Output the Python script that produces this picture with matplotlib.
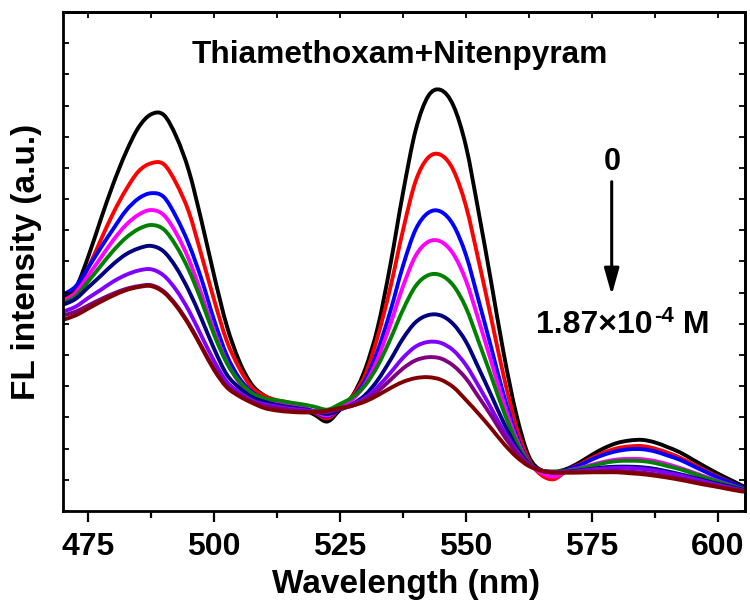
import matplotlib
matplotlib.use('Agg')
import matplotlib.pyplot as plt
from matplotlib.ticker import FixedLocator
from matplotlib.path import Path
from matplotlib.patches import PathPatch

plt.rcParams['font.family'] = ['Liberation Sans', 'DejaVu Sans']
plt.rcParams['font.weight'] = 'bold'

# ---------------- data ----------------
wavelength = [470, 472.5, 475, 477.5, 480, 482.5, 485, 487.5, 490, 492.5,
              495, 497.5, 500, 502.5, 505, 507.5, 510, 512.5, 515, 517.5,
              520, 522.5, 525, 527.5, 530, 532.5, 535, 537.5, 540, 542.5,
              545, 547.5, 550, 552.5, 555, 557.5, 560, 562.5, 565, 567.5,
              570, 572.5, 575, 577.5, 580, 582.5, 585, 587.5, 590, 592.5,
              595, 597.5, 600, 602.5, 605]

fl_black = [6.85, 7.15, 8.15, 9.35, 10.5, 11.5, 12.3, 12.72, 12.70, 12.0,
            10.9, 9.3, 7.55, 5.95, 4.8, 4.05, 3.7, 3.52, 3.42, 3.28,
            3.08, 2.87, 3.25, 3.7, 4.55, 5.9, 7.9, 10.2, 12.2, 13.3,
            13.5, 13.0, 11.7, 9.6, 7.35, 5.05, 3.1, 1.75, 1.3, 1.25,
            1.35, 1.55, 1.8, 2.02, 2.18, 2.26, 2.28, 2.2, 2.05, 1.88,
            1.65, 1.42, 1.2, 1.0, 0.8]
fl_red = [6.76, 7.02, 7.79, 8.69, 9.56, 10.30, 10.89, 11.15, 11.12, 10.5,
          9.58, 8.2, 6.77, 5.46, 4.58, 3.96, 3.69, 3.55, 3.47, 3.33,
          3.15, 2.97, 3.29, 3.69, 4.37, 5.6, 7.17, 9.0, 10.57, 11.33,
          11.42, 10.93, 9.78, 8.04, 6.19, 4.32, 2.69, 1.64, 1.15, 1.02,
          1.30, 1.49, 1.70, 1.88, 2.01, 2.07, 2.08, 2.0, 1.87, 1.71,
          1.51, 1.30, 1.10, 0.92, 0.74]
fl_blue = [6.94, 7.20, 7.80, 8.44, 9.05, 9.63, 10.02, 10.19, 10.07, 9.42,
           8.55, 7.43, 6.12, 5.0, 4.26, 3.82, 3.6, 3.5, 3.42, 3.32,
           3.17, 3.03, 3.29, 3.63, 4.19, 5.15, 6.41, 7.86, 9.02, 9.56,
           9.60, 9.17, 8.21, 6.76, 5.25, 3.72, 2.43, 1.57, 1.25, 1.2,
           1.32, 1.46, 1.65, 1.81, 1.92, 1.98, 1.98, 1.91, 1.78, 1.64,
           1.45, 1.26, 1.07, 0.91, 0.74]
fl_magenta = [6.73, 6.98, 7.54, 8.12, 8.69, 9.17, 9.50, 9.65, 9.49, 8.9,
              8.06, 6.96, 5.78, 4.78, 4.12, 3.71, 3.53, 3.45, 3.38, 3.3,
              3.18, 3.06, 3.29, 3.58, 4.07, 4.89, 5.99, 7.20, 8.18, 8.63,
              8.64, 8.24, 7.39, 6.13, 4.80, 3.46, 2.32, 1.55, 1.22, 1.1,
              1.28, 1.37, 1.48, 1.58, 1.65, 1.67, 1.66, 1.60, 1.50, 1.38,
              1.24, 1.10, 0.96, 0.83, 0.70]
fl_green = [6.66, 6.88, 7.36, 7.86, 8.35, 8.76, 9.04, 9.17, 9.03, 8.49,
            7.72, 6.73, 5.65, 4.75, 4.15, 3.78, 3.61, 3.55, 3.48, 3.42,
            3.34, 3.25, 3.43, 3.65, 4.03, 4.66, 5.51, 6.45, 7.21, 7.56,
            7.56, 7.23, 6.52, 5.44, 4.33, 3.19, 2.22, 1.55, 1.29, 1.27,
            1.28, 1.35, 1.45, 1.54, 1.60, 1.61, 1.60, 1.54, 1.44, 1.34,
            1.21, 1.07, 0.94, 0.82, 0.70]
fl_navy = [6.61, 6.80, 7.17, 7.54, 7.92, 8.23, 8.42, 8.50, 8.32, 7.80,
           7.06, 6.16, 5.20, 4.38, 3.95, 3.65, 3.5, 3.4, 3.33, 3.27,
           3.2, 3.11, 3.25, 3.43, 3.72, 4.20, 4.84, 5.53, 6.05, 6.28,
           6.27, 5.99, 5.43, 4.59, 3.72, 2.83, 2.06, 1.52, 1.29, 1.25,
           1.26, 1.30, 1.35, 1.40, 1.42, 1.42, 1.40, 1.35, 1.27, 1.18,
           1.08, 0.97, 0.87, 0.78, 0.68]
fl_violet = [6.39, 6.55, 6.83, 7.09, 7.36, 7.57, 7.71, 7.75, 7.55, 7.08,
             6.42, 5.61, 4.81, 4.15, 3.8, 3.55, 3.42, 3.35, 3.28, 3.24,
             3.2, 3.18, 3.29, 3.42, 3.63, 3.98, 4.43, 4.91, 5.27, 5.42,
             5.39, 5.15, 4.68, 4.01, 3.30, 2.57, 1.95, 1.50, 1.30, 1.25,
             1.25, 1.28, 1.33, 1.36, 1.38, 1.38, 1.35, 1.30, 1.22, 1.14,
             1.04, 0.94, 0.84, 0.75, 0.66]
fl_purple = [6.27, 6.39, 6.59, 6.79, 6.97, 7.12, 7.21, 7.24, 7.04, 6.60,
             6.0, 5.28, 4.57, 4.0, 3.72, 3.5, 3.36, 3.3, 3.24, 3.2,
             3.19, 3.18, 3.27, 3.38, 3.57, 3.84, 4.20, 4.57, 4.83, 4.93,
             4.89, 4.66, 4.25, 3.66, 3.06, 2.42, 1.88, 1.49, 1.30, 1.24,
             1.24, 1.25, 1.27, 1.28, 1.28, 1.26, 1.23, 1.18, 1.11, 1.04,
             0.96, 0.88, 0.79, 0.72, 0.64]
fl_darkred = [6.13, 6.27, 6.49, 6.71, 6.91, 7.08, 7.18, 7.21, 7.01, 6.57,
              5.97, 5.25, 4.52, 3.97, 3.68, 3.47, 3.3, 3.22, 3.18, 3.16,
              3.17, 3.22, 3.30, 3.38, 3.51, 3.71, 3.94, 4.14, 4.26, 4.29,
              4.21, 3.97, 3.56, 3.12, 2.65, 2.16, 1.74, 1.44, 1.29, 1.23,
              1.23, 1.23, 1.24, 1.24, 1.24, 1.21, 1.18, 1.13, 1.07, 1.0,
              0.92, 0.84, 0.77, 0.69, 0.62]

series_colors = ['#000000', '#FF0000', '#0000FF', '#FF00FF', '#008000',
                 '#000080', '#8000FF', '#800080', '#800000']
series = [fl_black, fl_red, fl_blue, fl_magenta, fl_green,
          fl_navy, fl_violet, fl_purple, fl_darkred]

x_major = [475, 500, 525, 550, 575, 600]
x_minor = [487.5, 512.5, 537.5, 562.5, 587.5]
y_ticks = list(range(0, 17))

title_text = 'Thiamethoxam+Nitenpyram'
start_text = '0'
end_main, end_sup, end_unit = '1.87\u00d710', '-4', ' M'


def smooth_path(xs, ys):
    """Smooth (Catmull-Rom style Bezier) path passing through every data point."""
    n = len(xs)
    verts = [(xs[0], ys[0])]
    codes = [Path.MOVETO]
    for i in range(n - 1):
        i0 = max(i - 1, 0)
        i3 = min(i + 2, n - 1)
        c1 = (xs[i] + (xs[i + 1] - xs[i0]) / 6.0, ys[i] + (ys[i + 1] - ys[i0]) / 6.0)
        c2 = (xs[i + 1] - (xs[i3] - xs[i]) / 6.0, ys[i + 1] - (ys[i3] - ys[i]) / 6.0)
        verts += [c1, c2, (xs[i + 1], ys[i + 1])]
        codes += [Path.CURVE4, Path.CURVE4, Path.CURVE4]
    return Path(verts, codes)


# ---------------- figure ----------------
fig = plt.figure(figsize=(7.5, 6.03), dpi=100)
ax = fig.add_axes([0.084, 0.1526, 0.9093, 0.8275])

for vals, col in zip(series, series_colors):
    patch = PathPatch(smooth_path(wavelength, vals), facecolor='none',
                      edgecolor=col, lw=2.8, joinstyle='round', capstyle='round')
    ax.add_patch(patch)

ax.set_xlim(470, 605.4)
ax.set_ylim(0, 16)

ax.xaxis.set_major_locator(FixedLocator(x_major))
ax.xaxis.set_minor_locator(FixedLocator(x_minor))
ax.yaxis.set_major_locator(FixedLocator(y_ticks))
ax.tick_params(axis='x', which='major', direction='out', length=8, width=1.6,
               labelsize=23, pad=7)
ax.tick_params(axis='x', which='minor', direction='out', length=5, width=1.6)
ax.tick_params(axis='y', which='major', direction='in', length=4, width=1.3,
               labelleft=False)
for lab in ax.get_xticklabels():
    lab.set_fontweight('bold')

for sp in ax.spines.values():
    sp.set_linewidth(2.0)

secx = ax.secondary_xaxis('top')
secx.xaxis.set_major_locator(FixedLocator(x_major))
secx.xaxis.set_minor_locator(FixedLocator(x_minor))
secx.tick_params(axis='x', which='both', direction='in', length=4, width=1.3,
                 labeltop=False)
secx.spines['top'].set_linewidth(2.0)

secy = ax.secondary_yaxis('right')
secy.yaxis.set_major_locator(FixedLocator(y_ticks))
secy.tick_params(axis='y', which='both', direction='in', length=4, width=1.3,
                 labelright=False)
secy.spines['right'].set_linewidth(2.0)

W, H = 750.0, 603.0

# axis labels
fig.text(405.5 / W, 1 - 593.3 / H, 'Wavelength (nm)', ha='center',
         va='baseline', fontsize=24, fontweight='bold')
fig.text(27 / W, 1 - 261.5 / H, 'FL intensity (a.u.)', ha='center',
         va='center', rotation=90, fontsize=24, fontweight='bold')

# annotations
fig.text(400 / W, 1 - 63.3 / H, title_text, ha='center', va='baseline',
         fontsize=22.8, fontweight='bold')
fig.text(612 / W, 1 - 170 / H, start_text, ha='center', va='baseline',
         fontsize=22, fontweight='bold')

fig.canvas.draw()
renderer = fig.canvas.get_renderer()
base_y = H - 333.0
t1 = fig.text(536.5 / W, base_y / H, end_main, ha='left', va='baseline',
              fontsize=23, fontweight='bold')
x1 = t1.get_window_extent(renderer).x1
t2 = fig.text((x1 + 1) / W, (base_y + 11) / H, end_sup, ha='left',
              va='baseline', fontsize=16, fontweight='bold')
x2 = t2.get_window_extent(renderer).x1
fig.text(x2 / W, base_y / H, end_unit, ha='left', va='baseline',
         fontsize=23, fontweight='bold')

ax.annotate('', xy=(611.7, H - 295), xytext=(611.7, H - 181.7),
            xycoords='figure pixels', textcoords='figure pixels',
            arrowprops=dict(arrowstyle='-|>,head_length=1.6,head_width=0.45',
                            mutation_scale=10, lw=2.2, color='black',
                            shrinkA=0, shrinkB=0))

fig.savefig('out.png', dpi=100)
